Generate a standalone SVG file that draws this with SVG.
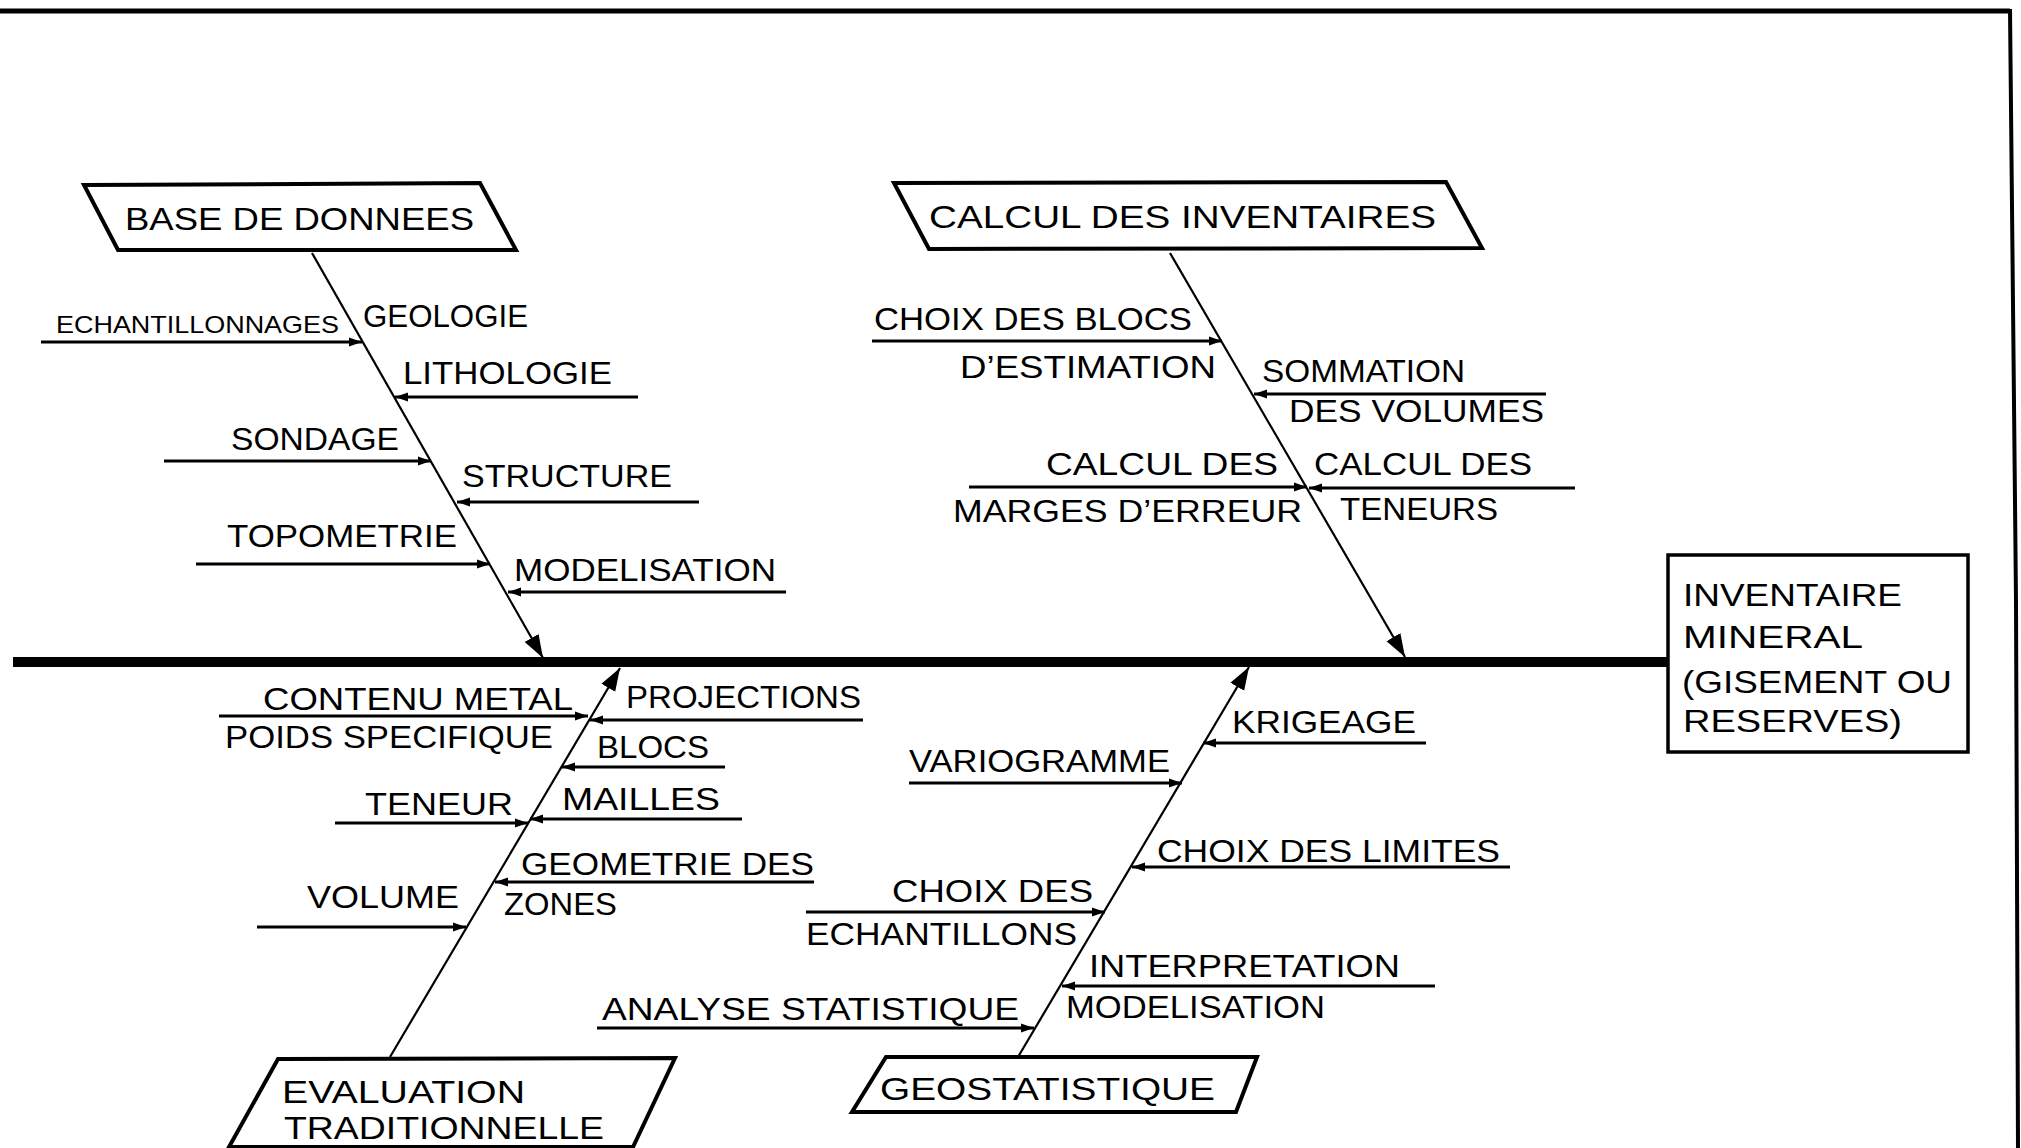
<svg xmlns="http://www.w3.org/2000/svg" width="2021" height="1148" viewBox="0 0 2021 1148">
  <defs>
    <marker id="tip" markerUnits="userSpaceOnUse" markerWidth="14" markerHeight="10" refX="13" refY="5" orient="auto">
      <path d="M0,0.5 L13,5 L0,9.5 Z" fill="#000"/>
    </marker>
    <marker id="tipBig" markerUnits="userSpaceOnUse" markerWidth="24" markerHeight="18" refX="23" refY="9" orient="auto">
      <path d="M0,1 L23,9 L0,17 Z" fill="#000"/>
    </marker>
  </defs>
  <style>
    text { font-family: "Liberation Sans", Arial, sans-serif; font-size: 31px; fill: #000; }
    .title { font-size: 32px; }
    .small { font-size: 24px; }
    .box { fill: #fff; stroke: #000; stroke-width: 4; stroke-linejoin: miter; }
    .bone { fill: none; stroke: #000; stroke-width: 2.2; }
    .branch { fill: none; stroke: #000; stroke-width: 3; marker-end: url(#tip); }
    .spine { fill: none; stroke: #000; stroke-width: 10; }
    .frame { fill: none; stroke: #000; stroke-width: 5; }
  </style>
  <rect width="2021" height="1148" fill="#fff"/>

  <!-- sheet frame -->
  <g id="frame">
    <path class="frame" d="M0,11 L2010,11"/>
    <path class="frame" style="stroke-width:4" d="M2010,9 L2016,600 L2018,1148"/>
  </g>

  <!-- connectors: main spine, category bones and cause arrows -->
  <g id="connectors">
    <path class="spine" d="M13,662 L1668,662"/>

    <path class="bone" d="M312,253 L543,658" marker-end="url(#tipBig)"/>
    <path class="branch" d="M41,342 L362,342"/>
    <path class="branch" d="M638,397 L395,397"/>
    <path class="branch" d="M164,461 L431,461"/>
    <path class="branch" d="M699,502 L457,502"/>
    <path class="branch" d="M196,564 L490,564"/>
    <path class="branch" d="M786,592 L508,592"/>

    <path class="bone" d="M1170,253 L1405,657" marker-end="url(#tipBig)"/>
    <path class="branch" d="M872,341 L1222,341"/>
    <path class="branch" d="M1546,394 L1254,394"/>
    <path class="branch" d="M969,487 L1307,487"/>
    <path class="branch" d="M1575,488 L1309,488"/>

    <path class="bone" d="M390,1057 L620,668" marker-end="url(#tipBig)"/>
    <path class="branch" d="M219,716 L588,716"/>
    <path class="branch" d="M863,720 L590,720"/>
    <path class="branch" d="M725,767 L562,767"/>
    <path class="branch" d="M335,823 L528,823"/>
    <path class="branch" d="M742,819 L530,819"/>
    <path class="branch" d="M814,882 L495,882"/>
    <path class="branch" d="M257,927 L466,927"/>

    <path class="bone" d="M1018,1057 L1249,667" marker-end="url(#tipBig)"/>
    <path class="branch" d="M1426,743 L1203,743"/>
    <path class="branch" d="M909,783 L1182,783"/>
    <path class="branch" d="M1510,867 L1132,867"/>
    <path class="branch" d="M806,912 L1105,912"/>
    <path class="branch" d="M1435,986 L1062,986"/>
    <path class="branch" d="M597,1028 L1034,1028"/>
  </g>

  <!-- category: data base -->
  <g id="base-de-donnees">
    <path class="box" d="M84,185 L480,183 L516,250 L118,250 Z"/>
    <text class="title" x="125" y="230" textLength="349" lengthAdjust="spacingAndGlyphs">BASE DE DONNEES</text>
  </g>
  <g id="causes-base">
    <text class="small" x="56" y="333" textLength="283" lengthAdjust="spacingAndGlyphs">ECHANTILLONNAGES</text>
    <text x="363" y="327" textLength="165" lengthAdjust="spacingAndGlyphs">GEOLOGIE</text>
    <text x="403" y="384" textLength="209" lengthAdjust="spacingAndGlyphs">LITHOLOGIE</text>
    <text x="231" y="450" textLength="168" lengthAdjust="spacingAndGlyphs">SONDAGE</text>
    <text x="462" y="487" textLength="210" lengthAdjust="spacingAndGlyphs">STRUCTURE</text>
    <text x="227" y="547" textLength="230" lengthAdjust="spacingAndGlyphs">TOPOMETRIE</text>
    <text x="514" y="581" textLength="262" lengthAdjust="spacingAndGlyphs">MODELISATION</text>
  </g>

  <!-- category: inventory calculation -->
  <g id="calcul-des-inventaires">
    <path class="box" d="M894,183 L1446,182 L1482,248 L929,249 Z"/>
    <text class="title" x="929" y="228" textLength="507" lengthAdjust="spacingAndGlyphs">CALCUL DES INVENTAIRES</text>
  </g>
  <g id="causes-calcul">
    <text x="874" y="330" textLength="318" lengthAdjust="spacingAndGlyphs">CHOIX DES BLOCS</text>
    <text x="960" y="378" textLength="256" lengthAdjust="spacingAndGlyphs">D’ESTIMATION</text>
    <text x="1262" y="382" textLength="203" lengthAdjust="spacingAndGlyphs">SOMMATION</text>
    <text x="1289" y="422" textLength="255" lengthAdjust="spacingAndGlyphs">DES VOLUMES</text>
    <text x="1046" y="475" textLength="232" lengthAdjust="spacingAndGlyphs">CALCUL DES</text>
    <text x="953" y="522" textLength="349" lengthAdjust="spacingAndGlyphs">MARGES D’ERREUR</text>
    <text x="1314" y="475" textLength="218" lengthAdjust="spacingAndGlyphs">CALCUL DES</text>
    <text x="1340" y="520" textLength="158" lengthAdjust="spacingAndGlyphs">TENEURS</text>
  </g>

  <!-- effect -->
  <g id="inventaire-mineral">
    <rect class="box" style="stroke-width:3.5" x="1668" y="555" width="300" height="197"/>
    <text class="title" x="1683" y="606" textLength="219" lengthAdjust="spacingAndGlyphs">INVENTAIRE</text>
    <text class="title" x="1683" y="648" textLength="180" lengthAdjust="spacingAndGlyphs">MINERAL</text>
    <text class="title" x="1682" y="693" textLength="270" lengthAdjust="spacingAndGlyphs">(GISEMENT OU</text>
    <text class="title" x="1683" y="732" textLength="219" lengthAdjust="spacingAndGlyphs">RESERVES)</text>
  </g>

  <!-- category: traditional evaluation -->
  <g id="evaluation-traditionnelle">
    <path class="box" d="M278,1059 L675,1058 L633,1147 L229,1147 Z"/>
    <text style="font-size:32px" x="282" y="1103" textLength="243" lengthAdjust="spacingAndGlyphs">EVALUATION</text>
    <text style="font-size:32px" x="284" y="1139" textLength="320" lengthAdjust="spacingAndGlyphs">TRADITIONNELLE</text>
  </g>
  <g id="causes-evaluation">
    <text x="263" y="710" textLength="310" lengthAdjust="spacingAndGlyphs">CONTENU METAL</text>
    <text x="225" y="748" textLength="328" lengthAdjust="spacingAndGlyphs">POIDS SPECIFIQUE</text>
    <text x="626" y="708" textLength="235" lengthAdjust="spacingAndGlyphs">PROJECTIONS</text>
    <text x="597" y="758" textLength="112" lengthAdjust="spacingAndGlyphs">BLOCS</text>
    <text x="365" y="815" textLength="148" lengthAdjust="spacingAndGlyphs">TENEUR</text>
    <text x="562" y="810" textLength="158" lengthAdjust="spacingAndGlyphs">MAILLES</text>
    <text x="521" y="875" textLength="293" lengthAdjust="spacingAndGlyphs">GEOMETRIE DES</text>
    <text x="504" y="915" textLength="113" lengthAdjust="spacingAndGlyphs">ZONES</text>
    <text x="307" y="908" textLength="152" lengthAdjust="spacingAndGlyphs">VOLUME</text>
  </g>

  <!-- category: geostatistics -->
  <g id="geostatistique">
    <path class="box" d="M886,1057 L1257,1057 L1236,1112 L852,1112 Z"/>
    <text class="title" x="880" y="1100" textLength="335" lengthAdjust="spacingAndGlyphs">GEOSTATISTIQUE</text>
  </g>
  <g id="causes-geostatistique">
    <text x="1232" y="733" textLength="184" lengthAdjust="spacingAndGlyphs">KRIGEAGE</text>
    <text x="909" y="772" textLength="261" lengthAdjust="spacingAndGlyphs">VARIOGRAMME</text>
    <text x="1157" y="862" textLength="343" lengthAdjust="spacingAndGlyphs">CHOIX DES LIMITES</text>
    <text x="892" y="902" textLength="201" lengthAdjust="spacingAndGlyphs">CHOIX DES</text>
    <text x="806" y="945" textLength="271" lengthAdjust="spacingAndGlyphs">ECHANTILLONS</text>
    <text x="1089" y="977" textLength="311" lengthAdjust="spacingAndGlyphs">INTERPRETATION</text>
    <text x="1066" y="1018" textLength="259" lengthAdjust="spacingAndGlyphs">MODELISATION</text>
    <text x="602" y="1020" textLength="417" lengthAdjust="spacingAndGlyphs">ANALYSE STATISTIQUE</text>
  </g>
</svg>
